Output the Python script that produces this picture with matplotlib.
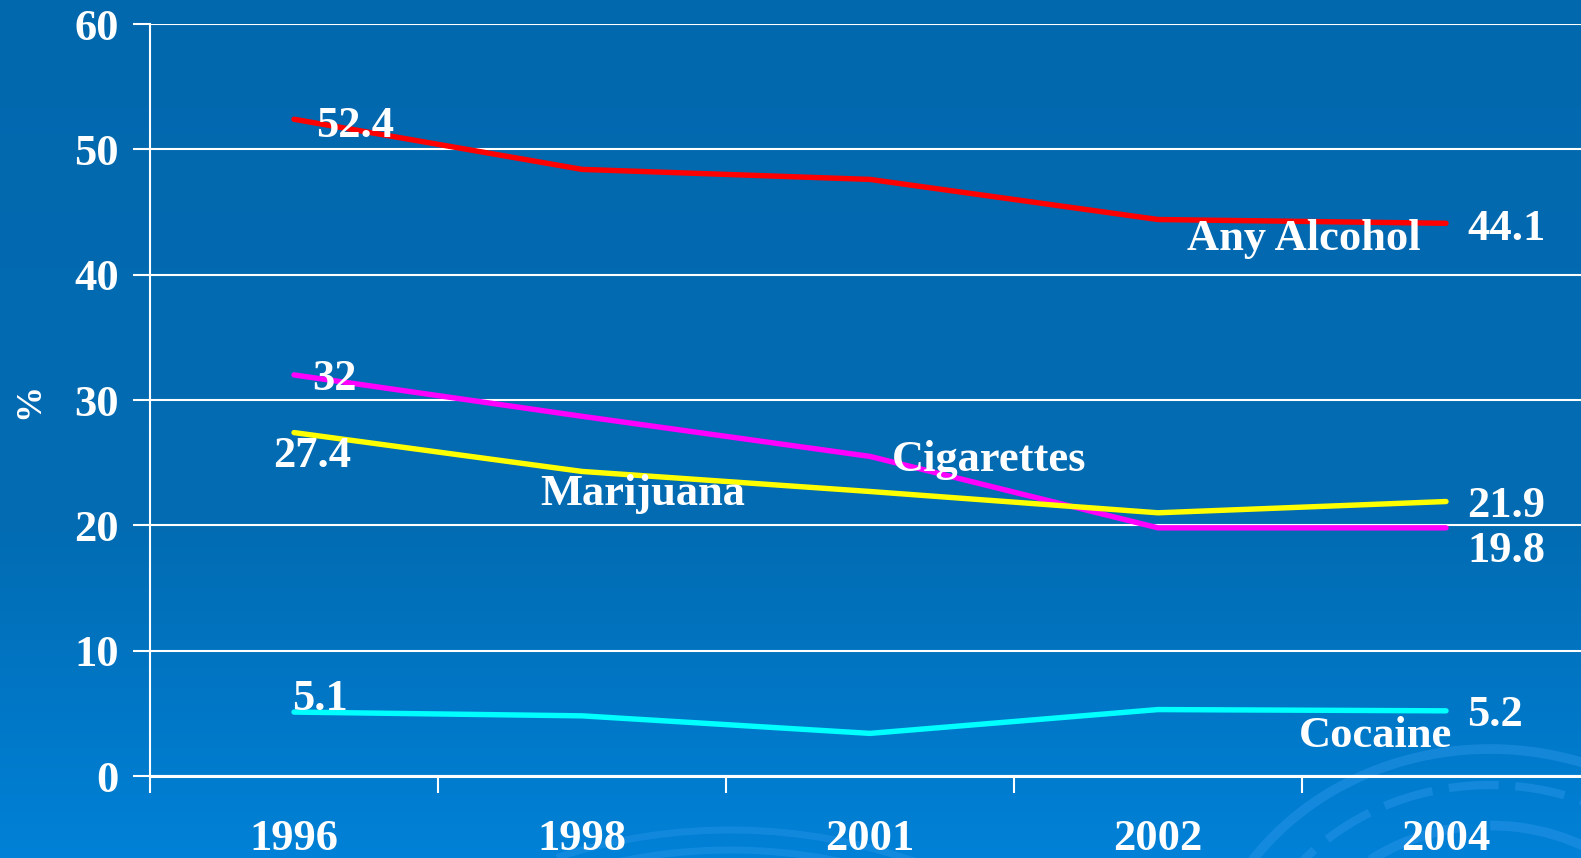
import numpy as np
import matplotlib
matplotlib.use("Agg")
import matplotlib.pyplot as plt
from matplotlib.patches import Arc
from matplotlib.colors import LinearSegmentedColormap

years = ["1996", "1998", "2001", "2002", "2004"]
alcohol = [52.4, 48.4, 47.6, 44.4, 44.1]
cigarettes = [32.0, 28.7, 25.5, 19.8, 19.8]
marijuana = [27.4, 24.3, 22.7, 21.0, 21.9]
cocaine = [5.1, 4.8, 3.4, 5.3, 5.2]

W, H = 1581, 858
FONT = "Liberation Serif"

fig = plt.figure(figsize=(W / 100, H / 100), dpi=100)

# slide-style background: blue gradient with faint swirls
bg = fig.add_axes([0, 0, 1, 1], zorder=-1)
bg.set_xlim(0, W)
bg.set_ylim(H, 0)
bg.axis("off")
cmap = LinearSegmentedColormap.from_list(
    "slide", [(0.0, "#0268ae"), (0.62, "#026cb3"), (1.0, "#0081d7")])
grad = np.linspace(0, 1, 256).reshape(-1, 1)
bg.imshow(grad, cmap=cmap, aspect="auto", extent=[0, W, H, 0])

swirl = "#2d97ea"
for r, lw, dash in [(290, 7, None), (250, 6, (6, 2)), (205, 7, (10, 3)),
                    (160, 6, (4, 2)), (115, 6, None), (75, 5, (5, 2))]:
    a = Arc((1490, 1010), 2 * r, 2 * r * 0.9, theta1=195, theta2=360,
            color=swirl, lw=lw, alpha=0.45)
    if dash:
        a.set_linestyle((0, dash))
    bg.add_patch(a)
for r in (560, 540):
    bg.add_patch(Arc((730, 1390), 2 * r, 2 * r, theta1=252, theta2=290,
                     color=swirl, lw=5, alpha=0.4))

ax = fig.add_axes([150 / W, 82 / H, 1440 / W, 752 / H])
ax.set_facecolor("none")
ax.set_xlim(-0.5, 4.5)
ax.set_ylim(0, 60)

x = np.arange(len(years))
series = [
    (alcohol, "#ff0000"),
    (cigarettes, "#ff00ff"),
    (marijuana, "#ffff00"),
    (cocaine, "#00ffff"),
]
for vals, color in series:
    ax.plot(x, vals, color=color, lw=3.9, solid_capstyle="round",
            solid_joinstyle="round", zorder=3, clip_on=False)

# grid and axes styling
ax.yaxis.grid(True, color="white", lw=1.5)
ax.set_axisbelow(True)
for side in ("top", "right"):
    ax.spines[side].set_visible(False)
ax.spines["left"].set_color("white")
ax.spines["left"].set_linewidth(1.5)
ax.spines["bottom"].set_color("white")
ax.spines["bottom"].set_linewidth(2.2)

ax.set_yticks(range(0, 61, 10))
ax.tick_params(axis="y", colors="white", length=12, width=1.5, pad=10.5,
               labelsize=32)
ax.set_xticks(np.arange(-0.5, 5, 1.0))
ax.set_xticklabels([])
ax.tick_params(axis="x", which="major", colors="white", length=12, width=1.5)
ax.set_xticks(x, minor=True)
ax.set_xticklabels(years, minor=True)
ax.tick_params(axis="x", which="minor", length=0, pad=31, labelsize=32,
               labelcolor="white")
for lab in ax.get_yticklabels() + ax.get_xticklabels(minor=True):
    lab.set_fontfamily(FONT)
    lab.set_fontweight("bold")

fig.text(30 / W, 1 - 401 / H, "%", rotation=90, ha="center", va="center",
         color="white", fontsize=26, fontweight="bold", family=FONT)


def label(text, i, vals, dx, dy, ha="left"):
    ax.annotate(text, xy=(i, vals[i]), xytext=(dx, dy),
                textcoords="offset pixels", ha=ha, va="baseline",
                color="white", fontsize=32, fontweight="bold", family=FONT,
                zorder=4, annotation_clip=False)


# start and end values
label(f"{alcohol[0]:g}", 0, alcohol, 22, -18)
label(f"{cigarettes[0]:g}", 0, cigarettes, 18, -15)
label(f"{marijuana[0]:g}", 0, marijuana, -21, -34)
label(f"{cocaine[0]:g}", 0, cocaine, -2, 2)
label(f"{alcohol[4]:g}", 4, alcohol, 21, -17)
label(f"{marijuana[4]:g}", 4, marijuana, 21, -15)
label(f"{cigarettes[4]:g}", 4, cigarettes, 21, -34)
label(f"{cocaine[4]:g}", 4, cocaine, 21, -15)

# series names
label("Any Alcohol", 4, alcohol, -25, -27, ha="right")
label("Cigarettes", 2, cigarettes, 22, -15)
label("Marijuana", 1, marijuana, -42, -34)
label("Cocaine", 4, cocaine, 6, -36, ha="right")

fig.savefig("out.png", dpi=100)
